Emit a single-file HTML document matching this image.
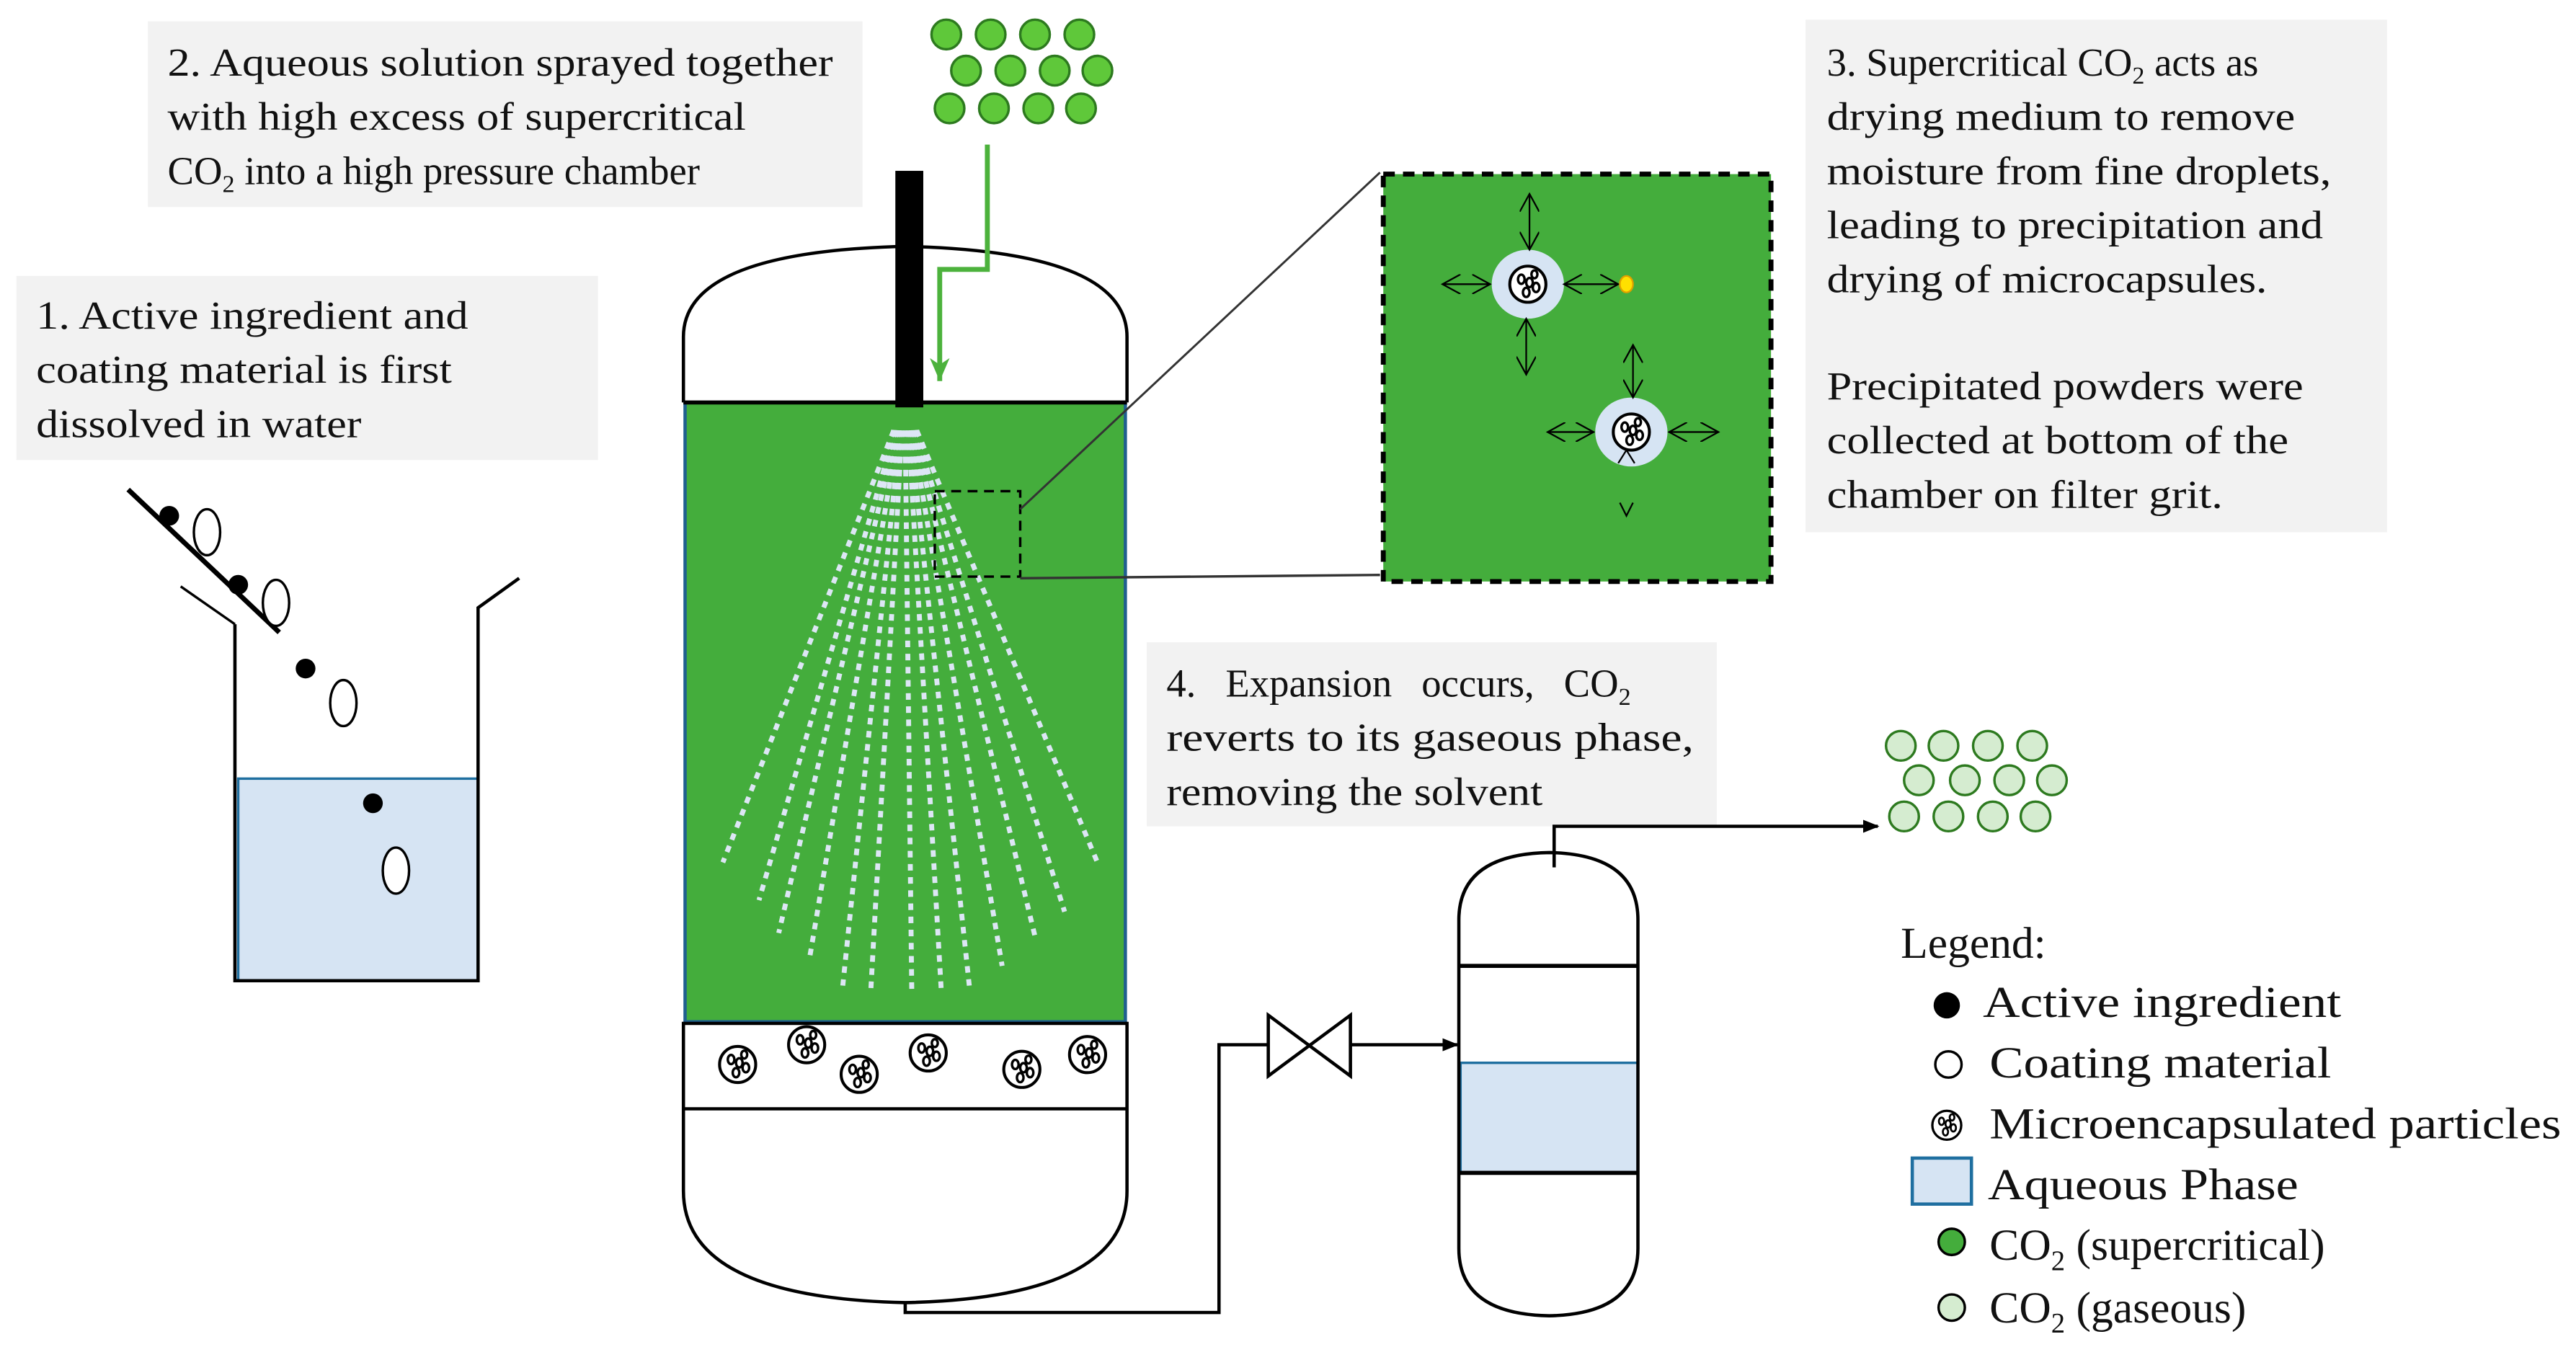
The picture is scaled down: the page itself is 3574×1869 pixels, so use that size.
<!DOCTYPE html>
<html><head><meta charset="utf-8"><style>
html,body{margin:0;padding:0;background:#fff;}
svg{display:block;}
text{font-family:"Liberation Serif",serif;fill:#111;}
</style></head><body>
<svg width="3574" height="1869" viewBox="0 0 1568 820" preserveAspectRatio="none" xmlns="http://www.w3.org/2000/svg">
<defs>
<marker id="ah" markerWidth="10" markerHeight="10" refX="9" refY="5" orient="auto" markerUnits="userSpaceOnUse"><path d="M0,1 L10,5 L0,9 z" fill="#000"/></marker>
<marker id="ahg" markerWidth="12" markerHeight="14" refX="6" refY="14" orient="0" markerUnits="userSpaceOnUse"><path d="M0,0 L6,14 L12,0 L6,4 z" fill="#4cb23c"/></marker>
<marker id="oa" markerWidth="12" markerHeight="12" refX="11" refY="6" orient="auto" markerUnits="userSpaceOnUse"><path d="M0,0 L11,6 L0,12" fill="none" stroke="#000" stroke-width="1"/></marker>
<marker id="oas" markerWidth="12" markerHeight="12" refX="1" refY="6" orient="auto" markerUnits="userSpaceOnUse"><path d="M12,0 L1,6 L12,12" fill="none" stroke="#000" stroke-width="1"/></marker>
<g id="mp"><circle r="11" fill="#fff" stroke="#000" stroke-width="1.8"/><ellipse cx="-4" cy="-3" rx="2" ry="2.8" fill="none" stroke="#000" stroke-width="1.5"/><ellipse cx="1" cy="-1" rx="2" ry="2.8" fill="none" stroke="#000" stroke-width="1.5"/><ellipse cx="5" cy="2" rx="2" ry="2.8" fill="none" stroke="#000" stroke-width="1.5"/><ellipse cx="-1" cy="5" rx="2" ry="2.8" fill="none" stroke="#000" stroke-width="1.5"/><ellipse cx="4" cy="-6" rx="1.8" ry="2.4" fill="none" stroke="#000" stroke-width="1.5"/></g>
<circle id="gd" r="9" fill="#5fc83a" stroke="#2d7a1f" stroke-width="1.5"/>
<circle id="ld" r="9" fill="#d5ecd0" stroke="#2d7a1f" stroke-width="1.5"/>
</defs>

<rect x="90" y="13" width="435" height="113" fill="#f2f2f2"/>
<text font-size="24"><tspan x="102" y="46" textLength="405" lengthAdjust="spacingAndGlyphs">2. Aqueous solution sprayed together</tspan><tspan x="102" y="79" textLength="352" lengthAdjust="spacingAndGlyphs">with high excess of supercritical</tspan></text>
<text font-size="24" x="102" y="112">CO<tspan font-size="15" dy="5">2</tspan><tspan dy="-5"> into a high pressure chamber</tspan></text>

<rect x="10" y="168" width="354" height="112" fill="#f2f2f2"/>
<text font-size="24"><tspan x="22" y="200" textLength="263" lengthAdjust="spacingAndGlyphs">1. Active ingredient and</tspan><tspan x="22" y="233" textLength="253" lengthAdjust="spacingAndGlyphs">coating material is first</tspan><tspan x="22" y="266" textLength="198" lengthAdjust="spacingAndGlyphs">dissolved in water</tspan></text>

<rect x="1099" y="12" width="354" height="312" fill="#f2f2f2"/>
<text font-size="24" x="1112" y="46">3. Supercritical CO<tspan font-size="15" dy="5">2</tspan><tspan dy="-5"> acts as</tspan></text>
<text font-size="24"><tspan x="1112" y="79" textLength="285" lengthAdjust="spacingAndGlyphs">drying medium to remove</tspan><tspan x="1112" y="112" textLength="307" lengthAdjust="spacingAndGlyphs">moisture from fine droplets,</tspan><tspan x="1112" y="145" textLength="302" lengthAdjust="spacingAndGlyphs">leading to precipitation and</tspan><tspan x="1112" y="178" textLength="268" lengthAdjust="spacingAndGlyphs">drying of microcapsules.</tspan><tspan x="1112" y="243" textLength="290" lengthAdjust="spacingAndGlyphs">Precipitated powders were</tspan><tspan x="1112" y="276" textLength="281" lengthAdjust="spacingAndGlyphs">collected at bottom of the</tspan><tspan x="1112" y="309" textLength="241" lengthAdjust="spacingAndGlyphs">chamber on filter grit.</tspan></text>

<rect x="698" y="391" width="347" height="112" fill="#f2f2f2"/>
<text font-size="24" x="710" y="424" word-spacing="12">4. Expansion occurs, CO<tspan font-size="15" dy="5">2</tspan></text>
<text font-size="24"><tspan x="710" y="457" textLength="321" lengthAdjust="spacingAndGlyphs">reverts to its gaseous phase,</tspan><tspan x="710" y="490" textLength="229" lengthAdjust="spacingAndGlyphs">removing the solvent</tspan></text>

<use href="#gd" x="576" y="21"/><use href="#gd" x="603" y="21"/><use href="#gd" x="630" y="21"/><use href="#gd" x="657" y="21"/>
<use href="#gd" x="588" y="43"/><use href="#gd" x="615" y="43"/><use href="#gd" x="642" y="43"/><use href="#gd" x="668" y="43"/>
<use href="#gd" x="578" y="66"/><use href="#gd" x="605" y="66"/><use href="#gd" x="632" y="66"/><use href="#gd" x="658" y="66"/>

<path d="M416,245 L416,205 Q416,153 551,150 Q686,153 686,205 L686,245" fill="none" stroke="#000" stroke-width="2"/>
<rect x="417" y="245" width="268" height="377" fill="#44ad3c" stroke="#1f5f8f" stroke-width="2"/>
<line x1="416" y1="245" x2="686" y2="245" stroke="#000" stroke-width="2.5"/>
<path d="M416,622 L416,725 Q416,790 551,793 Q686,790 686,725 L686,622" fill="none" stroke="#000" stroke-width="2"/>
<line x1="416" y1="623" x2="686" y2="623" stroke="#000" stroke-width="2"/>
<line x1="416" y1="675" x2="686" y2="675" stroke="#000" stroke-width="2"/>
<use href="#mp" x="449" y="648"/><use href="#mp" x="491" y="636"/><use href="#mp" x="523" y="654"/><use href="#mp" x="565" y="641"/><use href="#mp" x="622" y="651"/><use href="#mp" x="662" y="642"/>

<g stroke="#dde6f5" stroke-width="3" stroke-dasharray="4 4" fill="none">
<line x1="544" y1="262" x2="440" y2="525"/>
<line x1="545" y1="262" x2="462" y2="548"/>
<line x1="546" y1="262" x2="474" y2="568"/>
<line x1="547" y1="262" x2="493" y2="582"/>
<line x1="548" y1="262" x2="513" y2="600"/>
<line x1="549" y1="262" x2="530" y2="604"/>
<line x1="551" y1="262" x2="555" y2="604"/>
<line x1="553" y1="262" x2="573" y2="604"/>
<line x1="554" y1="262" x2="590" y2="600"/>
<line x1="555" y1="262" x2="610" y2="588"/>
<line x1="556" y1="262" x2="630" y2="570"/>
<line x1="557" y1="262" x2="648" y2="555"/>
<line x1="558" y1="262" x2="668" y2="525"/>
</g>
<rect x="545" y="104" width="17" height="144" fill="#000"/>
<polyline points="601,88 601,164 572,164 572,232" fill="none" stroke="#4cb23c" stroke-width="3" marker-end="url(#ahg)"/>

<rect x="569" y="299" width="52" height="52" fill="none" stroke="#000" stroke-width="1.5" stroke-dasharray="6 4"/>
<line x1="621" y1="310" x2="840" y2="105" stroke="#333" stroke-width="1.3"/>
<line x1="621" y1="352" x2="840" y2="350" stroke="#333" stroke-width="1.5"/>
<rect x="842" y="106" width="236" height="248" fill="#44ad3c" stroke="#000" stroke-width="3" stroke-dasharray="7 5"/>
<ellipse cx="930" cy="173" rx="22" ry="21" fill="#d6e4f3"/>
<use href="#mp" x="930" y="173"/>
<ellipse cx="993" cy="263" rx="22" ry="21" fill="#d6e4f3"/>
<use href="#mp" x="993" y="263"/>
<g stroke="#000" stroke-width="1">
<line x1="931" y1="152" x2="931" y2="118" marker-end="url(#oa)" marker-start="url(#oas)"/>
<line x1="929" y1="194" x2="929" y2="228" marker-end="url(#oa)" marker-start="url(#oas)"/>
<line x1="907" y1="173" x2="878" y2="173" marker-end="url(#oa)" marker-start="url(#oas)"/>
<line x1="952" y1="173" x2="985" y2="173" marker-end="url(#oa)" marker-start="url(#oas)"/>
<line x1="994" y1="242" x2="994" y2="210" marker-end="url(#oa)" marker-start="url(#oas)"/>
<line x1="970" y1="263" x2="942" y2="263" marker-end="url(#oa)" marker-start="url(#oas)"/>
<line x1="1016" y1="263" x2="1046" y2="263" marker-end="url(#oa)" marker-start="url(#oas)"/>
<path d="M985,282 L990,274 L995,282" fill="none"/>
<path d="M986,306 L990,314 L994,306" fill="none"/>
</g>
<ellipse cx="990" cy="173" rx="4" ry="5" fill="#ffe000" stroke="#e0a000" stroke-width="1"/>

<rect x="145" y="474" width="146" height="123" fill="#d6e4f3" stroke="#1f6fa0" stroke-width="1.5"/>
<polyline points="143,380 143,597 291,597 291,370 316,352" fill="none" stroke="#000" stroke-width="2"/>
<line x1="110" y1="357" x2="143" y2="380" stroke="#000" stroke-width="1.5"/>
<line x1="78" y1="298" x2="170" y2="385" stroke="#000" stroke-width="3"/>
<g fill="#000"><ellipse cx="103" cy="314" rx="6" ry="6"/><ellipse cx="145" cy="356" rx="6" ry="6"/><ellipse cx="186" cy="407" rx="6" ry="6"/><ellipse cx="227" cy="489" rx="6" ry="6"/></g>
<g fill="#fff" stroke="#000" stroke-width="1.5"><ellipse cx="126" cy="324" rx="8" ry="14"/><ellipse cx="168" cy="367" rx="8" ry="14"/><ellipse cx="209" cy="428" rx="8" ry="14"/><ellipse cx="241" cy="530" rx="8" ry="14"/></g>

<polyline points="551,793 551,799 742,799 742,636 772,636" fill="none" stroke="#000" stroke-width="2"/>
<path d="M772,618 L822,655 L822,618 L772,655 Z" fill="#fff" stroke="#000" stroke-width="2"/>
<line x1="822" y1="636" x2="887" y2="636" stroke="#000" stroke-width="2" marker-end="url(#ah)"/>

<rect x="889" y="647" width="108" height="67" fill="#d6e4f3" stroke="#1f6fa0" stroke-width="1.5"/>
<path d="M888,588 L888,560 Q888,520 943,519 Q997,520 997,560 L997,760 Q997,800 943,801 Q888,800 888,760 Z" fill="none" stroke="#000" stroke-width="2"/>
<line x1="888" y1="588" x2="997" y2="588" stroke="#000" stroke-width="2.5"/>
<line x1="888" y1="714" x2="997" y2="714" stroke="#000" stroke-width="2.5"/>
<polyline points="946,528 946,503 1143,503" fill="none" stroke="#000" stroke-width="2" marker-end="url(#ah)"/>
<use href="#ld" x="1157" y="454"/><use href="#ld" x="1183" y="454"/><use href="#ld" x="1210" y="454"/><use href="#ld" x="1237" y="454"/>
<use href="#ld" x="1168" y="475"/><use href="#ld" x="1196" y="475"/><use href="#ld" x="1223" y="475"/><use href="#ld" x="1249" y="475"/>
<use href="#ld" x="1159" y="497"/><use href="#ld" x="1186" y="497"/><use href="#ld" x="1213" y="497"/><use href="#ld" x="1239" y="497"/>

<text x="1157" y="583" font-size="27">Legend:</text>
<circle cx="1185" cy="612" r="8" fill="#000"/>
<circle cx="1186" cy="648" r="8" fill="#fff" stroke="#000" stroke-width="1.5"/>
<g transform="translate(1185,685) scale(0.8)"><use href="#mp"/></g>
<rect x="1164" y="705" width="36" height="28" fill="#d6e4f3" stroke="#1f6fa0" stroke-width="2"/>
<circle cx="1188" cy="756" r="8" fill="#44ad3c" stroke="#000" stroke-width="1.5"/>
<circle cx="1188" cy="796" r="8" fill="#d5ecd0" stroke="#000" stroke-width="1.5"/>
<text font-size="27"><tspan x="1207" y="619" textLength="218" lengthAdjust="spacingAndGlyphs">Active ingredient</tspan><tspan x="1211" y="656" textLength="208" lengthAdjust="spacingAndGlyphs">Coating material</tspan><tspan x="1211" y="693" textLength="348" lengthAdjust="spacingAndGlyphs">Microencapsulated particles</tspan><tspan x="1210" y="730" textLength="189" lengthAdjust="spacingAndGlyphs">Aqueous Phase</tspan></text>
<text font-size="27" x="1211" y="767">CO<tspan font-size="17" dy="6">2</tspan><tspan dy="-6"> (supercritical)</tspan></text>
<text font-size="27" x="1211" y="805">CO<tspan font-size="17" dy="6">2</tspan><tspan dy="-6"> (gaseous)</tspan></text>
</svg>
</body></html>
